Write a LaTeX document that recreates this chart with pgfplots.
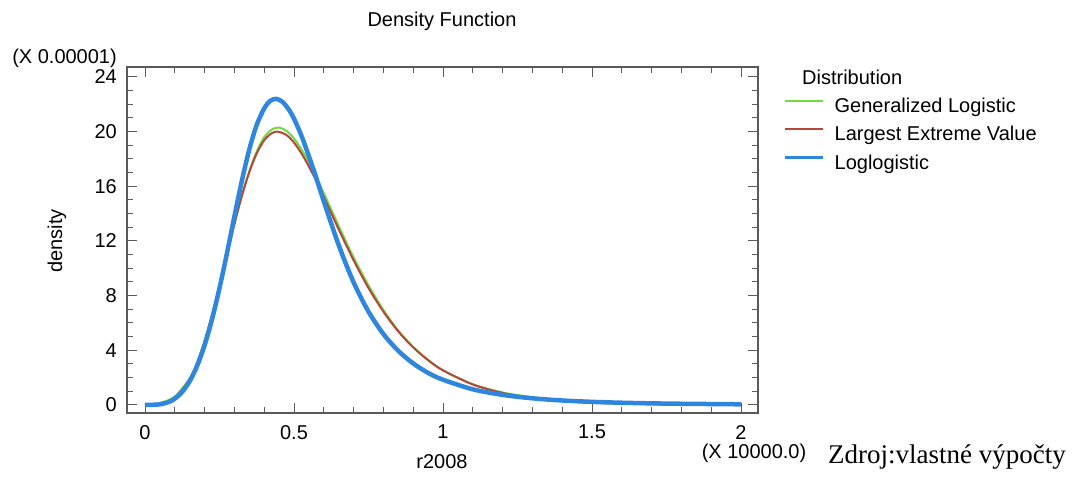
\documentclass[border=0pt]{standalone}
\usepackage{fontspec}
\setmainfont{Liberation Sans}
\newfontfamily\serif{Liberation Serif}
\usepackage{pgfplots}
\pgfplotsset{compat=1.18}
\definecolor{cgreen}{RGB}{110,220,60}
\definecolor{cred}{RGB}{180,70,62}
\definecolor{cblue}{RGB}{46,134,222}
\definecolor{axgray}{RGB}{90,90,90}
\newcommand\lbl{\fontsize{20}{24}\selectfont}
\begin{document}
\begin{tikzpicture}[x=1pt,y=1pt]
\begin{axis}[
  at={(127pt,71pt)}, anchor=south west,
  width=631pt, height=346pt, scale only axis,
  xmin=-0.0604, xmax=2.057, ymin=-0.585, ymax=24.73,
  xtick={0,0.5,1,1.5,2}, xticklabels={0,0.5,1,1.5,2},
  ytick={0,4,8,12,16,20,24}, yticklabels={0,4,8,12,16,20,24},
  minor x tick num=4, minor y tick num=3,
  tick align=inside,
  major tick length=10pt, minor tick length=6pt,
  every tick/.style={draw=axgray, line width=1pt},
  axis line style={draw=axgray, line width=1.2pt},
  xticklabel style={font=\lbl, anchor=north, inner sep=0pt, yshift=-12pt},
  yticklabel style={font=\lbl, anchor=east, inner sep=0pt, xshift=-10pt},
  legend style={draw=none, fill=none, inner sep=0pt, at={(1.0396,0.9104)}, anchor=north west,
    font=\lbl, row sep=9.5pt, column sep=10pt,
    nodes={inner sep=0pt, text height=14pt, text depth=5pt, anchor=west}},
  legend cell align=left,
  legend image code/.code={\draw[line width=2pt, #1] (0pt,7pt) -- (38pt,7pt);},
]
\addplot[cgreen, line width=2pt, smooth] coordinates {
(0,0.03) (0.05,0.15) (0.1,0.62) (0.15,1.95) (0.175,3.1) (0.2,4.7) (0.225,6.6) (0.25,8.75)
(0.275,11.0) (0.3,13.2) (0.325,15.3) (0.35,17.1) (0.375,18.55) (0.4,19.6) (0.425,20.15)
(0.45,20.3) (0.475,20.05) (0.5,19.5) (0.525,18.7) (0.55,17.75) (0.575,16.65) (0.6,15.5)
(0.65,13.1) (0.7,10.8) (0.75,8.75) (0.8,6.95) (0.85,5.45) (0.9,4.25) (0.95,3.3) (1.0,2.55)
(1.1,1.52) (1.2,0.92) (1.3,0.56) (1.4,0.34) (1.5,0.21) (1.6,0.13) (1.7,0.08) (1.8,0.05) (1.9,0.03) (2.0,0.02)};
\addlegendentry{Generalized Logistic}
\addplot[cred, line width=2pt, smooth] coordinates {
(0,0.01) (0.05,0.09) (0.1,0.52) (0.15,1.88) (0.175,3.08) (0.2,4.66) (0.225,6.59) (0.25,8.75)
(0.275,11.03) (0.3,13.26) (0.325,15.30) (0.35,17.04) (0.375,18.41) (0.4,19.37) (0.425,19.88)
(0.445,20.0) (0.475,19.75) (0.5,19.2) (0.525,18.41) (0.55,17.45) (0.575,16.37) (0.6,15.22)
(0.65,12.85) (0.7,10.59) (0.75,8.56) (0.8,6.83) (0.85,5.38) (0.9,4.21) (0.95,3.28) (1.0,2.53)
(1.1,1.50) (1.2,0.88) (1.3,0.52) (1.4,0.30) (1.5,0.17) (1.6,0.10) (1.7,0.06) (1.8,0.035) (1.9,0.02) (2.0,0.01)};
\addlegendentry{Largest Extreme Value}
\addplot[cblue, line width=4.5pt, smooth,
  legend image code/.code={\draw[cblue, line width=3.5pt] (0pt,7pt) -- (38pt,7pt);}] coordinates {
(0.0,0.0) (0.02,0.01) (0.05,0.05) (0.08,0.22) (0.1,0.46) (0.125,0.96) (0.15,1.74) (0.175,2.87)
(0.2,4.37) (0.225,6.27) (0.25,8.55) (0.275,11.1) (0.3,13.8) (0.325,16.4) (0.35,18.7) (0.375,20.5)
(0.4,21.7) (0.42,22.25) (0.44,22.4) (0.46,22.2) (0.48,21.7) (0.5,20.95) (0.525,19.7) (0.55,18.2)
(0.575,16.6) (0.6,14.9) (0.65,11.7) (0.7,8.97) (0.75,6.83) (0.8,5.19) (0.85,3.96) (0.9,3.04)
(0.95,2.35) (1.0,1.85) (1.1,1.15) (1.2,0.74) (1.3,0.49) (1.4,0.33) (1.5,0.23) (1.6,0.165)
(1.7,0.12) (1.8,0.09) (1.9,0.07) (2.0,0.05)};
\addlegendentry{Loglogistic}
\end{axis}
\node[font=\lbl] at (442,463) {Density Function};
\node[font=\lbl, anchor=east, inner sep=0pt] at (117,426) {(X 0.00001)};
\node[font=\lbl, rotate=90] at (57,243) {density};
\node[font=\lbl] at (442,22) {r2008};
\node[font=\lbl, anchor=north, inner sep=0pt] at (754,40) {(X 10000.0)};
\node[font=\lbl, anchor=west, inner sep=0pt] at (802,407) {Distribution};
\node[font=\serif\fontsize{27}{30}\selectfont, anchor=base west, inner sep=0pt] at (828,20) {Zdroj:vlastné výpočty};
\pgfresetboundingbox
\path (0,0) rectangle (1077,484);
\end{tikzpicture}
\end{document}
